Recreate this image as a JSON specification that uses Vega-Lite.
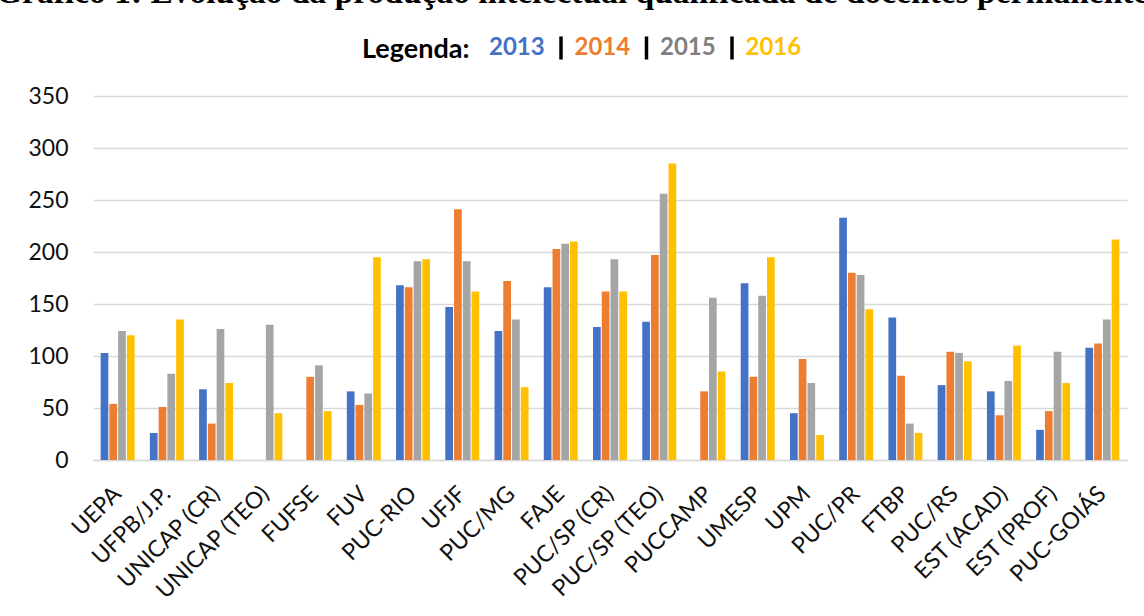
{
  "$schema": "https://vega.github.io/schema/vega-lite/v6.json",
  "autosize": {"type": "none"},
  "width": 1034,
  "height": 364,
  "padding": {"left": 93, "top": 96, "right": 17, "bottom": 156},
  "background": "white",
  "title": {
    "text": "Gráfico 1: Evolução da produção intelectual qualificada de docentes permanentes",
    "font": "Liberation Serif",
    "fontSize": 33.5,
    "fontWeight": "bold",
    "color": "black",
    "anchor": "start",
    "frame": "group",
    "dx": -97,
    "dy": -20
  },
  "data": {
    "values": [
      {"ies": "UEPA", "ano": "2013", "valor": 103}, {"ies": "UEPA", "ano": "2014", "valor": 54}, {"ies": "UEPA", "ano": "2015", "valor": 124}, {"ies": "UEPA", "ano": "2016", "valor": 120},
      {"ies": "UFPB/J.P.", "ano": "2013", "valor": 26}, {"ies": "UFPB/J.P.", "ano": "2014", "valor": 51}, {"ies": "UFPB/J.P.", "ano": "2015", "valor": 83}, {"ies": "UFPB/J.P.", "ano": "2016", "valor": 135},
      {"ies": "UNICAP (CR)", "ano": "2013", "valor": 68}, {"ies": "UNICAP (CR)", "ano": "2014", "valor": 35}, {"ies": "UNICAP (CR)", "ano": "2015", "valor": 126}, {"ies": "UNICAP (CR)", "ano": "2016", "valor": 74},
      {"ies": "UNICAP (TEO)", "ano": "2015", "valor": 130}, {"ies": "UNICAP (TEO)", "ano": "2016", "valor": 45},
      {"ies": "FUFSE", "ano": "2014", "valor": 80}, {"ies": "FUFSE", "ano": "2015", "valor": 91}, {"ies": "FUFSE", "ano": "2016", "valor": 47},
      {"ies": "FUV", "ano": "2013", "valor": 66}, {"ies": "FUV", "ano": "2014", "valor": 53}, {"ies": "FUV", "ano": "2015", "valor": 64}, {"ies": "FUV", "ano": "2016", "valor": 195},
      {"ies": "PUC-RIO", "ano": "2013", "valor": 168}, {"ies": "PUC-RIO", "ano": "2014", "valor": 166}, {"ies": "PUC-RIO", "ano": "2015", "valor": 191}, {"ies": "PUC-RIO", "ano": "2016", "valor": 193},
      {"ies": "UFJF", "ano": "2013", "valor": 147}, {"ies": "UFJF", "ano": "2014", "valor": 241}, {"ies": "UFJF", "ano": "2015", "valor": 191}, {"ies": "UFJF", "ano": "2016", "valor": 162},
      {"ies": "PUC/MG", "ano": "2013", "valor": 124}, {"ies": "PUC/MG", "ano": "2014", "valor": 172}, {"ies": "PUC/MG", "ano": "2015", "valor": 135}, {"ies": "PUC/MG", "ano": "2016", "valor": 70},
      {"ies": "FAJE", "ano": "2013", "valor": 166}, {"ies": "FAJE", "ano": "2014", "valor": 203}, {"ies": "FAJE", "ano": "2015", "valor": 208}, {"ies": "FAJE", "ano": "2016", "valor": 210},
      {"ies": "PUC/SP (CR)", "ano": "2013", "valor": 128}, {"ies": "PUC/SP (CR)", "ano": "2014", "valor": 162}, {"ies": "PUC/SP (CR)", "ano": "2015", "valor": 193}, {"ies": "PUC/SP (CR)", "ano": "2016", "valor": 162},
      {"ies": "PUC/SP (TEO)", "ano": "2013", "valor": 133}, {"ies": "PUC/SP (TEO)", "ano": "2014", "valor": 197}, {"ies": "PUC/SP (TEO)", "ano": "2015", "valor": 256}, {"ies": "PUC/SP (TEO)", "ano": "2016", "valor": 285},
      {"ies": "PUCCAMP", "ano": "2014", "valor": 66}, {"ies": "PUCCAMP", "ano": "2015", "valor": 156}, {"ies": "PUCCAMP", "ano": "2016", "valor": 85},
      {"ies": "UMESP", "ano": "2013", "valor": 170}, {"ies": "UMESP", "ano": "2014", "valor": 80}, {"ies": "UMESP", "ano": "2015", "valor": 158}, {"ies": "UMESP", "ano": "2016", "valor": 195},
      {"ies": "UPM", "ano": "2013", "valor": 45}, {"ies": "UPM", "ano": "2014", "valor": 97}, {"ies": "UPM", "ano": "2015", "valor": 74}, {"ies": "UPM", "ano": "2016", "valor": 24},
      {"ies": "PUC/PR", "ano": "2013", "valor": 233}, {"ies": "PUC/PR", "ano": "2014", "valor": 180}, {"ies": "PUC/PR", "ano": "2015", "valor": 178}, {"ies": "PUC/PR", "ano": "2016", "valor": 145},
      {"ies": "FTBP", "ano": "2013", "valor": 137}, {"ies": "FTBP", "ano": "2014", "valor": 81}, {"ies": "FTBP", "ano": "2015", "valor": 35}, {"ies": "FTBP", "ano": "2016", "valor": 26},
      {"ies": "PUC/RS", "ano": "2013", "valor": 72}, {"ies": "PUC/RS", "ano": "2014", "valor": 104}, {"ies": "PUC/RS", "ano": "2015", "valor": 103}, {"ies": "PUC/RS", "ano": "2016", "valor": 95},
      {"ies": "EST (ACAD)", "ano": "2013", "valor": 66}, {"ies": "EST (ACAD)", "ano": "2014", "valor": 43}, {"ies": "EST (ACAD)", "ano": "2015", "valor": 76}, {"ies": "EST (ACAD)", "ano": "2016", "valor": 110},
      {"ies": "EST (PROF)", "ano": "2013", "valor": 29}, {"ies": "EST (PROF)", "ano": "2014", "valor": 47}, {"ies": "EST (PROF)", "ano": "2015", "valor": 104}, {"ies": "EST (PROF)", "ano": "2016", "valor": 74},
      {"ies": "PUC-GOIÁS", "ano": "2013", "valor": 108}, {"ies": "PUC-GOIÁS", "ano": "2014", "valor": 112}, {"ies": "PUC-GOIÁS", "ano": "2015", "valor": 135}, {"ies": "PUC-GOIÁS", "ano": "2016", "valor": 212}
    ]
  },
  "mark": {"type": "bar"},
  "encoding": {
    "x": {
      "field": "ies",
      "type": "nominal",
      "sort": null,
      "title": null,
      "scale": {"paddingInner": 0.31, "paddingOuter": 0.155},
      "axis": {
        "labelAngle": -45,
        "labelAlign": "right",
        "labelBaseline": "middle",
        "labelFont": "Lato",
        "labelFontSize": 23,
        "labelColor": "#111111",
        "labelPadding": 30,
        "ticks": false,
        "domain": true,
        "domainColor": "#D9D9D9",
        "domainWidth": 1.5,
        "grid": false,
        "labelOverlap": false
      }
    },
    "xOffset": {"field": "ano", "type": "nominal", "scale": {"paddingInner": 0.12}},
    "y": {
      "field": "valor",
      "type": "quantitative",
      "title": null,
      "scale": {"domain": [0, 350], "nice": false},
      "axis": {
        "values": [0, 50, 100, 150, 200, 250, 300, 350],
        "grid": true,
        "gridColor": "#D9D9D9",
        "gridWidth": 1.5,
        "domain": false,
        "ticks": false,
        "labelFont": "Lato",
        "labelFontSize": 23,
        "labelColor": "#111111",
        "labelPadding": 25
      }
    },
    "color": {
      "field": "ano",
      "type": "nominal",
      "scale": {"domain": ["2013", "2014", "2015", "2016"], "range": ["#4472C4", "#ED7D31", "#A5A5A5", "#FFC000"]},
      "legend": {
        "title": "Legenda:",
        "orient": "none",
        "legendX": 269,
        "legendY": -62,
        "direction": "horizontal",
        "titleOrient": "left",
        "titleFont": "Lato",
        "titleFontSize": 27,
        "titleFontWeight": "bold",
        "titleColor": "black",
        "titlePadding": -8,
        "titleBaseline": "middle",
        "labelFont": "Lato",
        "labelFontSize": 24,
        "labelFontWeight": "bold",
        "labelOffset": 0,
        "columnPadding": 2.5,
        "symbolType": "M0,-1L0,1",
        "symbolSize": 530,
        "symbolStrokeWidth": 3.5,
        "symbolStrokeColor": "black",
        "symbolFillColor": "transparent",
        "encode": {
          "symbols": {
            "update": {
              "stroke": {"signal": "datum.value == '2013' ? 'transparent' : 'black'"},
              "fill": {"value": "transparent"}
            }
          },
          "labels": {
            "update": {
              "fill": {"signal": "datum.value == '2013' ? '#4472C4' : datum.value == '2014' ? '#ED7D31' : datum.value == '2015' ? '#7F7F7F' : '#FFC000'"}
            }
          }
        }
      }
    }
  },
  "config": {
    "view": {"stroke": null}
  }
}
